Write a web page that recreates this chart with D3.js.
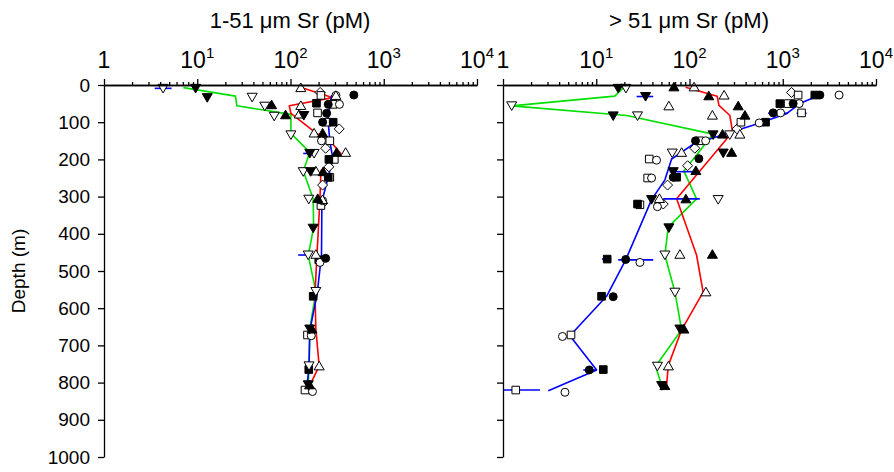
<!DOCTYPE html>
<html><head><meta charset="utf-8">
<script src="https://cdn.jsdelivr.net/npm/d3@7"></script>
<style>body{margin:0;background:#fff}text{font-family:"Liberation Sans",Arial,sans-serif;fill:#000}</style>
</head><body><svg id="c" width="894" height="472"></svg>
<script>
// ---------- data: [value pM, depth m] ----------
const panelTitles = ["1-51 \u03bcm Sr (pM)", "> 51 \u03bcm Sr (pM)"];
const xTickExps = [0, 1, 2, 3, 4];
const depthTicks = [0,100,200,300,400,500,600,700,800,900,1000];

// left panel (1-51 um)
const L_filledTriDown = [[9.6,9],[12.8,34],[139,82],[161,184],[164,233],[175,385],[161,656],[155,806]];
const L_openTriDown   = [[4.3,9],[38.8,33],[53,57],[66.9,84],[101,134],[179,184],[137,233],[157,307],[155,457],[187,555],[158,755]];
const L_filledTriUp   = [[62.7,53],[88.5,80],[221,129],[312,181],[224,233],[196,305],[170,656],[160,806]];
const L_openTriUp     = [[129,7],[307,28],[129,55],[124,78],[179,129],[390,181],[187,231],[220,308],[187,455],[203,755]];
const L_filledCircle  = [[478,27],[254,52],[244,76],[221,100],[238,466]];
const L_openCircle    = [[307,28],[335,52],[215,150],[221,311],[207,477],[167,674],[172,824]];
const L_filledSquare  = [[190,49],[287,100],[258,200],[254,248],[201,470],[175,568],[157,765]];
const L_openSquare    = [[212,28],[287,52],[195,75],[249,100],[264,150],[295,200],[264,248],[212,324],[152,672],[143,820]];
const L_openDiamond   = [[208,20],[333,118],[238,170],[258,220],[221,269],[221,318]];
const L_red   = [[128,6],[285,34],[97,56],[101,76],[187,129],[264,150],[347,184],[212,231],[207,306],[192,460],[183,562],[187,656],[203,755],[161,808]];
const L_green = [[7.1,7],[25.7,30],[26.6,56],[101,79],[101,130],[161,181],[137,231],[175,306],[177,383],[155,458],[187,555],[161,656],[158,755],[155,808]];
const L_blue  = [[276,27],[252,91],[264,150],[285,199],[252,250],[217,314],[215,457],[193,562],[161,660],[158,758],[149,817]];
const L_bars  = [[3.5,5.3,9],[183,215,20],[137,168,184],[121,155,457]]; // [lo, hi, depth]

// right panel (>51 um)
const R_filledTriDown = [[17.2,9],[33.8,31],[15.2,83],[179,134],[230,183],[66.9,233],[39.2,308],[60.1,384],[78.9,656],[50.3,808]];
const R_openTriDown   = [[20.8,9],[1.24,56],[27.7,83],[270,134],[65.3,183],[203,308],[54.5,457],[69.8,557],[45.3,756]];
const R_filledTriUp   = [[68.1,5],[161,29],[333,56],[393,81],[226,132],[283,181],[117,230],[91.5,306],[176,455],[87.1,656],[54.4,808]];
const R_openTriUp     = [[112,5],[235,27],[60.1,56],[176,81],[347,132],[82.3,181],[47.6,305],[78.9,455],[150,556],[59.4,755]];
const R_filledCircle  = [[2500,27],[1292,50],[789,75],[116,150],[126,198],[66.9,248],[20.7,469],[15.2,569],[8.41,766]];
const R_openCircle    = [[4018,27],[1500,50],[947,75],[559,102],[149,150],[44.3,202],[39.2,250],[45.3,327],[29.4,477],[4.34,676],[4.62,826]];
const R_filledSquare  = [[2207,27],[931,50],[654,100],[72.8,248],[27.7,320],[13.1,468],[11.4,568],[11.9,765]];
const R_openSquare    = [[1462,27],[1142,50],[1590,75],[356,100],[129,150],[37,199],[35.6,250],[29.4,322],[5.36,672],[1.37,820]];
const R_openDiamond   = [[1242,20],[324,118],[114,170],[95.4,217],[58.2,269],[52.3,320]];
const R_red   = [[90.8,6],[198,30],[207,55],[271,82],[287,120],[245,148],[72.8,306],[119,457],[140,557],[82.3,658],[59.1,755],[56.8,808]];
const R_green = [[20,5],[15.8,30],[1.24,56],[21.2,82],[179,132],[87,231],[119,306],[59.1,382],[54.5,457],[69.8,557],[82.3,658],[43.3,756],[50.3,808]];
const R_blue  = [[2500,27],[1525,50],[1099,77],[568,102],[110,159],[64.3,199],[54.5,255],[39.2,308],[20.7,470],[12.9,568],[5.22,674],[10.1,766],[3.06,822]];
const R_bars  = [[27.1,40.8,31],[697,1142,76],[1406,1800,76],[61.2,114,233],[52.3,129,306],[17.2,40.8,470],[11.5,13,468],[7.26,10.1,766],[1,2.49,820]];

// ---------- drawing ----------
const svg = d3.select("#c");
const y = d3.scaleLinear().domain([0,1000]).range([85,457]);
const symbols = {
  circle: "M4,0A4,4 0 1,1 -4,0A4,4 0 1,1 4,0Z",
  square: "M-3.8,-3.8H3.8V3.8H-3.8Z",
  triUp: "M0,-4.6L5,4L-5,4Z",
  triDown: "M0,4.6L5,-4L-5,-4Z",
  diamond: "M0,-5L5,0L0,5L-5,0Z"
};
const panels = [
  {x0:104, title: panelTitles[0], labels:true,
   series:[[L_openDiamond,"diamond",false],[L_openSquare,"square",false],[L_filledSquare,"square",true],[L_openCircle,"circle",false],[L_filledCircle,"circle",true],
           [L_openTriUp,"triUp",false],[L_filledTriUp,"triUp",true],[L_openTriDown,"triDown",false],[L_filledTriDown,"triDown",true]],
   red:L_red, green:L_green, blue:L_blue, bars:L_bars},
  {x0:503, title: panelTitles[1], labels:false,
   series:[[R_openDiamond,"diamond",false],[R_openSquare,"square",false],[R_filledSquare,"square",true],[R_openCircle,"circle",false],[R_filledCircle,"circle",true],
           [R_openTriUp,"triUp",false],[R_filledTriUp,"triUp",true],[R_openTriDown,"triDown",false],[R_filledTriDown,"triDown",true]],
   red:R_red, green:R_green, blue:R_blue, bars:R_bars}
];

panels.forEach((p,i)=>{
  const x = d3.scaleLog().domain([1,1e4]).range([p.x0, p.x0+373]);
  const g = svg.append("g");
  const clipId = "clip"+i;
  svg.append("clipPath").attr("id",clipId).append("rect")
     .attr("x",p.x0).attr("y",80).attr("width",380).attr("height",390);
  const plot = g.append("g").attr("clip-path",`url(#${clipId})`);
  const line = d3.line().x(d=>x(d[0])).y(d=>y(d[1]));
  [[p.green,"#00e000"],[p.red,"#ff0000"],[p.blue,"#0000ff"]].forEach(([data,col])=>{
    plot.append("path").datum(data).attr("d",line).attr("fill","none")
      .attr("stroke",col).attr("stroke-width",1.6).attr("stroke-linejoin","round");
  });
  plot.selectAll(".bar").data(p.bars).join("line")
    .attr("x1",d=>x(d[0])).attr("x2",d=>x(d[1])).attr("y1",d=>y(d[2])).attr("y2",d=>y(d[2]))
    .attr("stroke","#0000ff").attr("stroke-width",1.6);
  p.series.forEach(([data,shape,filled])=>{
    g.append("g").selectAll("path").data(data).join("path")
      .attr("d",symbols[shape])
      .attr("transform",d=>`translate(${x(d[0])},${y(d[1])})`)
      .attr("fill",filled?"#000":"#fff").attr("stroke","#000").attr("stroke-width",1);
  });

  // x axis (top) with log minor ticks
  const minor = [];
  for (let e=0;e<4;e++) for (let m=2;m<=9;m++) minor.push(m*Math.pow(10,e));
  const majors = xTickExps.map(e=>Math.pow(10,e));
  g.append("g").attr("transform",`translate(0,${y(0)})`)
    .call(d3.axisTop(x).tickValues(minor).tickSize(3).tickSizeOuter(0).tickFormat(""))
    .call(s=>s.selectAll("line,path").attr("stroke","#000").attr("stroke-width",1.3));
  const ax = g.append("g").attr("transform",`translate(0,${y(0)})`)
    .call(d3.axisTop(x).tickValues(majors).tickSize(6).tickSizeOuter(0).tickFormat(""));
  ax.selectAll("line,path").attr("stroke","#000").attr("stroke-width",1.3);
  xTickExps.forEach(e=>{
    const t = g.append("text").attr("x",x(Math.pow(10,e))).attr("y",68)
      .attr("text-anchor","middle").attr("font-size",23);
    if (e===0) { t.text("1"); }
    else {
      t.append("tspan").text("10");
      t.append("tspan").attr("dy",-10).attr("font-size",15).text(e);
    }
  });
  g.append("text").attr("x",p.x0+186).attr("y",28).attr("text-anchor","middle")
    .attr("font-size",22).text(p.title);

  // y axis
  const yax = g.append("g").attr("transform",`translate(${p.x0},0)`)
    .call(d3.axisLeft(y).tickValues(depthTicks).tickSize(6).tickSizeOuter(0).tickPadding(8)
      .tickFormat(p.labels?d3.format("d"):""));
  yax.selectAll("line,path").attr("stroke","#000").attr("stroke-width",1.3);
  yax.selectAll("text").attr("font-size",19).attr("font-family","Liberation Sans, Arial, sans-serif").attr("fill","#000");
});

svg.append("text").attr("transform",`translate(25,${(y(0)+y(1000))/2}) rotate(-90)`)
  .attr("text-anchor","middle").attr("font-size",19).text("Depth (m)");
</script></body></html>
